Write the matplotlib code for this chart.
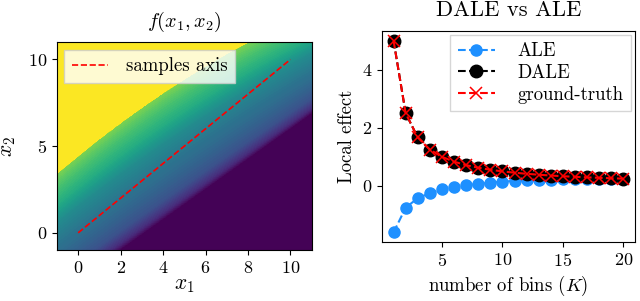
import numpy as np
import matplotlib
matplotlib.use('Agg')
import matplotlib.pyplot as plt

plt.rcParams['font.family'] = 'serif'
plt.rcParams['font.serif'] = ['cmr10']
plt.rcParams['mathtext.fontset'] = 'cm'
plt.rcParams['axes.formatter.use_mathtext'] = True
plt.rcParams['font.size'] = 13.5

# right panel data
bins = [1, 2, 3, 4, 5, 6, 7, 8, 9, 10, 11, 12, 13, 14, 15, 16, 17, 18, 19, 20]
ale = [-1.6, -0.75, -0.42, -0.25, -0.12, -0.05, 0.02, 0.07, 0.11, 0.15,
       0.17, 0.19, 0.21, 0.22, 0.23, 0.24, 0.24, 0.25, 0.25, 0.25]
dale = [5.0, 2.5, 1.667, 1.25, 1.0, 0.833, 0.714, 0.625, 0.556, 0.5,
        0.455, 0.417, 0.385, 0.357, 0.333, 0.313, 0.294, 0.278, 0.263, 0.25]
gt = [5.0, 2.5, 1.667, 1.25, 1.0, 0.833, 0.714, 0.625, 0.556, 0.5,
      0.455, 0.417, 0.385, 0.357, 0.333, 0.313, 0.294, 0.278, 0.263, 0.25]

# left panel: samples axis end points
samples_x = [0, 10]
samples_y = [0, 10]
# colour profile across the band (fraction across -> colormap value)
band_t = [0.0, 0.05, 0.15, 0.3, 0.45, 0.6, 0.75, 0.9, 1.0]
band_c = [0.0, 0.12, 0.25, 0.33, 0.40, 0.48, 0.62, 0.72, 0.80]


def f(x1, x2):
    lower = -1 + 0.873 * (x1 - 1.95)
    upper = 4.45 + 0.992 * x1 - 0.0217 * x1 ** 2
    t = (x2 - lower) / (upper - lower)
    c = np.interp(t, band_t, band_c)
    c = np.where(t > 1, 1.0, c)
    return c


fig = plt.figure(figsize=(6.4, 3.01), dpi=100)
ax1 = fig.add_axes([0.089, 0.169, 0.398, 0.691])
ax2 = fig.add_axes([0.597, 0.196, 0.395, 0.701])

gx = np.linspace(-1, 11, 400)
gy = np.linspace(-1, 11, 400)
X1, X2 = np.meshgrid(gx, gy)
Z = f(X1, X2)
ax1.contourf(X1, X2, Z, levels=np.linspace(0, 1, 80), cmap='viridis', vmin=0, vmax=1)
ax1.plot(samples_x, samples_y, 'r--', lw=1.2, label='samples axis')
ax1.set_xlim(-1, 11)
ax1.set_ylim(-1, 11)
ax1.set_xticks([0, 2, 4, 6, 8, 10])
ax1.set_yticks([0, 5, 10])
ax1.tick_params(labelsize=13)
ax1.set_xlabel('$x_1$', fontsize=15.5, labelpad=0)
ax1.set_ylabel('$x_2$', fontsize=15.5, labelpad=7)
ax1.set_title('$f(x_1, x_2)$', fontsize=14.5, pad=11)
ax1.legend(loc='upper left', fancybox=False, borderaxespad=0.4,
           handlelength=1.9, handletextpad=1.0)

ax2.plot(bins, ale, '--o', color='dodgerblue', ms=8, label='ALE')
ax2.plot(bins, dale, '--o', color='black', ms=9, label='DALE')
ax2.plot(bins, gt, '--x', color='red', ms=9, mew=1.1, label='ground-truth')
ax2.set_xticks([5, 10, 15, 20])
ax2.set_yticks([0, 2, 4])
ax2.tick_params(labelsize=13)
ax2.set_xlabel('number of bins $(K)$')
ax2.set_ylabel('Local effect')
ax2.set_title('DALE vs ALE', pad=11)
ax2.legend(loc='upper right', fancybox=False, borderaxespad=0.2,
           labelspacing=0.2, handlelength=2.0, handletextpad=1.2)

fig.savefig('out.png', dpi=100)
